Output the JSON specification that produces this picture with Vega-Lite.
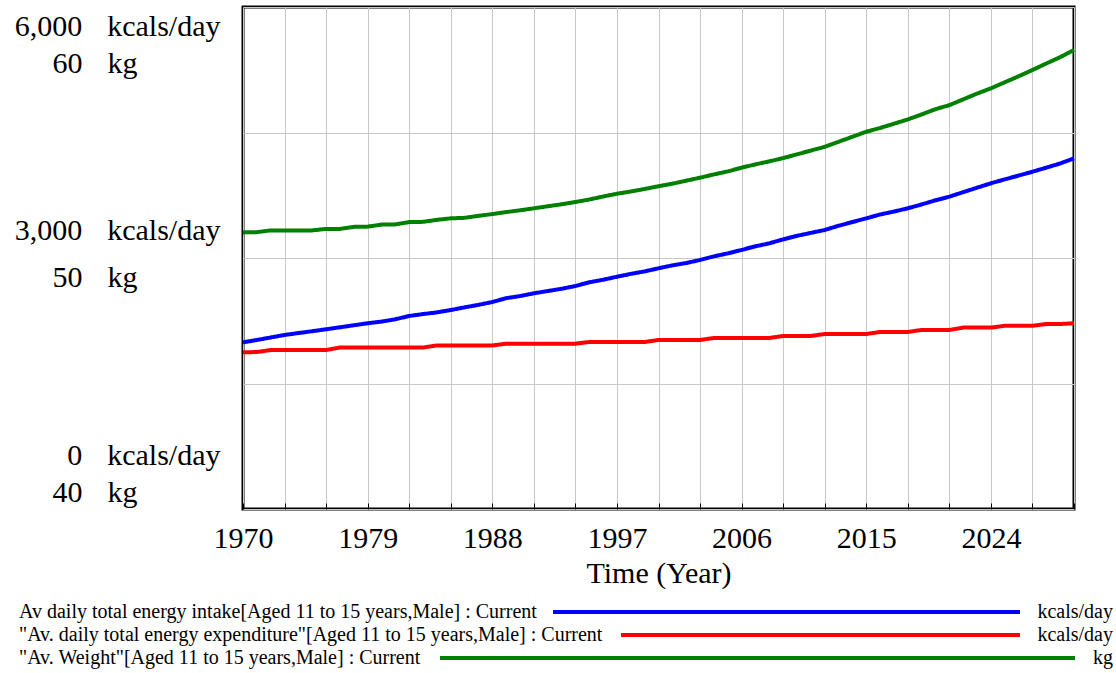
{
  "$schema": "https://vega.github.io/schema/vega-lite/v6.json",
  "autosize": {"type": "none"},
  "padding": {"left": 243, "top": 7, "right": 42, "bottom": 164},
  "width": 831,
  "height": 502,
  "config": {
    "font": "Liberation Serif",
    "view": {"stroke": "#000", "strokeWidth": 3},
    "axis": {"labelColor": "#000", "labelFont": "Liberation Serif", "titleFont": "Liberation Serif", "titleColor": "#000"},
    "legend": {"labelFont": "Liberation Serif", "labelColor": "#000"}
  },
  "data": {"values": [
    {"year": 1970, "intake": 1992, "expenditure": 1873, "weight": 51.02},
    {"year": 1971, "intake": 2020, "expenditure": 1876, "weight": 51.03},
    {"year": 1972, "intake": 2050, "expenditure": 1900, "weight": 51.10},
    {"year": 1973, "intake": 2080, "expenditure": 1900, "weight": 51.10},
    {"year": 1974, "intake": 2103, "expenditure": 1900, "weight": 51.10},
    {"year": 1975, "intake": 2125, "expenditure": 1900, "weight": 51.10},
    {"year": 1976, "intake": 2148, "expenditure": 1900, "weight": 51.16},
    {"year": 1977, "intake": 2172, "expenditure": 1930, "weight": 51.16},
    {"year": 1978, "intake": 2196, "expenditure": 1930, "weight": 51.24},
    {"year": 1979, "intake": 2220, "expenditure": 1930, "weight": 51.25},
    {"year": 1980, "intake": 2240, "expenditure": 1930, "weight": 51.33},
    {"year": 1981, "intake": 2268, "expenditure": 1930, "weight": 51.34},
    {"year": 1982, "intake": 2307, "expenditure": 1930, "weight": 51.43},
    {"year": 1983, "intake": 2330, "expenditure": 1930, "weight": 51.44},
    {"year": 1984, "intake": 2350, "expenditure": 1955, "weight": 51.52},
    {"year": 1985, "intake": 2378, "expenditure": 1955, "weight": 51.58},
    {"year": 1986, "intake": 2410, "expenditure": 1955, "weight": 51.60},
    {"year": 1987, "intake": 2440, "expenditure": 1955, "weight": 51.68},
    {"year": 1988, "intake": 2474, "expenditure": 1955, "weight": 51.75},
    {"year": 1989, "intake": 2520, "expenditure": 1976, "weight": 51.83},
    {"year": 1990, "intake": 2545, "expenditure": 1976, "weight": 51.90},
    {"year": 1991, "intake": 2578, "expenditure": 1976, "weight": 51.98},
    {"year": 1992, "intake": 2605, "expenditure": 1976, "weight": 52.06},
    {"year": 1993, "intake": 2632, "expenditure": 1976, "weight": 52.14},
    {"year": 1994, "intake": 2665, "expenditure": 1976, "weight": 52.23},
    {"year": 1995, "intake": 2710, "expenditure": 1996, "weight": 52.33},
    {"year": 1996, "intake": 2740, "expenditure": 1996, "weight": 52.45},
    {"year": 1997, "intake": 2776, "expenditure": 1996, "weight": 52.56},
    {"year": 1998, "intake": 2810, "expenditure": 1996, "weight": 52.65},
    {"year": 1999, "intake": 2840, "expenditure": 1996, "weight": 52.75},
    {"year": 2000, "intake": 2877, "expenditure": 2020, "weight": 52.86},
    {"year": 2001, "intake": 2912, "expenditure": 2020, "weight": 52.96},
    {"year": 2002, "intake": 2940, "expenditure": 2020, "weight": 53.08},
    {"year": 2003, "intake": 2976, "expenditure": 2020, "weight": 53.20},
    {"year": 2004, "intake": 3020, "expenditure": 2044, "weight": 53.33},
    {"year": 2005, "intake": 3055, "expenditure": 2044, "weight": 53.45},
    {"year": 2006, "intake": 3096, "expenditure": 2044, "weight": 53.60},
    {"year": 2007, "intake": 3140, "expenditure": 2044, "weight": 53.73},
    {"year": 2008, "intake": 3175, "expenditure": 2044, "weight": 53.85},
    {"year": 2009, "intake": 3223, "expenditure": 2068, "weight": 53.98},
    {"year": 2010, "intake": 3265, "expenditure": 2068, "weight": 54.13},
    {"year": 2011, "intake": 3300, "expenditure": 2068, "weight": 54.28},
    {"year": 2012, "intake": 3335, "expenditure": 2092, "weight": 54.43},
    {"year": 2013, "intake": 3385, "expenditure": 2092, "weight": 54.63},
    {"year": 2014, "intake": 3430, "expenditure": 2092, "weight": 54.83},
    {"year": 2015, "intake": 3474, "expenditure": 2092, "weight": 55.03},
    {"year": 2016, "intake": 3520, "expenditure": 2116, "weight": 55.18},
    {"year": 2017, "intake": 3555, "expenditure": 2116, "weight": 55.35},
    {"year": 2018, "intake": 3594, "expenditure": 2116, "weight": 55.52},
    {"year": 2019, "intake": 3640, "expenditure": 2140, "weight": 55.72},
    {"year": 2020, "intake": 3690, "expenditure": 2140, "weight": 55.93},
    {"year": 2021, "intake": 3733, "expenditure": 2140, "weight": 56.09},
    {"year": 2022, "intake": 3787, "expenditure": 2168, "weight": 56.32},
    {"year": 2023, "intake": 3840, "expenditure": 2168, "weight": 56.55},
    {"year": 2024, "intake": 3893, "expenditure": 2168, "weight": 56.76},
    {"year": 2025, "intake": 3940, "expenditure": 2190, "weight": 57.00},
    {"year": 2026, "intake": 3985, "expenditure": 2190, "weight": 57.24},
    {"year": 2027, "intake": 4031, "expenditure": 2190, "weight": 57.49},
    {"year": 2028, "intake": 4080, "expenditure": 2211, "weight": 57.75},
    {"year": 2029, "intake": 4130, "expenditure": 2211, "weight": 58.00},
    {"year": 2030, "intake": 4191, "expenditure": 2220, "weight": 58.29}
  ]},
  "encoding": {
    "x": {
      "field": "year", "type": "quantitative",
      "scale": {"domain": [1970, 2030], "nice": false, "zero": false},
      "axis": {
        "values": [1970, 1973, 1976, 1979, 1982, 1985, 1988, 1991, 1994, 1997, 2000, 2003, 2006, 2009, 2012, 2015, 2018, 2021, 2024, 2027, 2030],
        "labelExpr": "(datum.value - 1970) % 9 == 0 ? format(datum.value, 'd') : ''",
        "grid": true, "gridColor": "#c8c8c8", "gridWidth": 1,
        "domain": false,
        "ticks": true, "tickSize": -6, "tickColor": "#000", "tickWidth": 1,
        "labelFontSize": 30, "labelPadding": 20, "labelFlush": false, "labelOverlap": false,
        "title": "Time (Year)", "titleFontSize": 30, "titleFontWeight": "normal", "titlePadding": 5
      }
    }
  },
  "layer": [
    {
      "mark": {"type": "line", "strokeWidth": 4},
      "encoding": {
        "y": {
          "field": "intake", "type": "quantitative",
          "scale": {"domain": [0, 6000], "nice": false, "zero": false},
          "axis": {
            "orient": "left",
            "values": [0, 1500, 3000, 4500, 6000],
            "grid": true, "gridColor": "#c8c8c8", "gridWidth": 1,
            "domain": false, "ticks": false, "tickSize": 0,
            "labelExpr": "datum.value % 3000 == 0 ? format(datum.value, ',') + '\u00a0\u00a0\u00a0\u200akcals/day' : ''",
            "labelAlign": "right", "labelBaseline": "top", "labelLimit": 500,
            "labelPadding": 23, "labelFontSize": 30, "labelOverlap": false,
            "labelOffset": {"condition": [{"test": "datum.value == 6000", "value": 4}, {"test": "datum.value == 3000", "value": -43}], "value": -69},
            "title": null
          }
        },
        "color": {
          "datum": "Av daily total energy intake[Aged 11 to 15 years,Male] : Current",
          "scale": {
            "domain": [
              "Av daily total energy intake[Aged 11 to 15 years,Male] : Current",
              "\"Av. daily total energy expenditure\"[Aged 11 to 15 years,Male] : Current",
              "\"Av. Weight\"[Aged 11 to 15 years,Male] : Current"
            ],
            "range": ["#0000ff", "#ff0000", "#008000"]
          },
          "legend": {
            "orient": "none", "legendX": -225, "legendY": 593,
            "direction": "vertical", "title": null, "padding": 0,
            "symbolType": "stroke", "symbolSize": 400, "symbolStrokeWidth": 4,
            "symbolOffset": 397, "labelOffset": -420,
            "labelFontSize": 20, "labelLimit": 2000, "rowPadding": 1,
            "encode": {
              "symbols": {
                "update": {
                  "shape": {"signal": "datum.index == 0 ? 'M12.6,0L59.3,0' : (datum.index == 1 ? 'M19.4,0L59.3,0' : 'M1.3,0L64.8,0')"}
                }
              }
            }
          }
        },
        "strokeDash": {
          "datum": "intake",
          "scale": {"domain": ["intake", "expenditure", "weight"], "range": [[1, 0], [1, 0], [1, 0]]},
          "legend": {
            "orient": "none", "legendX": 851, "legendY": 595,
            "direction": "vertical", "title": null, "padding": 0,
            "symbolOpacity": 0, "symbolSize": 1, "symbolStrokeWidth": 0,
            "labelAlign": "right", "labelOffset": -1,
            "labelExpr": "datum.value == 'weight' ? 'kg' : 'kcals/day'",
            "labelFontSize": 20, "rowPadding": 3
          }
        }
      }
    },
    {
      "mark": {"type": "line", "strokeWidth": 4},
      "encoding": {
        "y": {
          "field": "expenditure", "type": "quantitative",
          "scale": {"domain": [0, 6000], "nice": false, "zero": false},
          "axis": null
        },
        "color": {"datum": "\"Av. daily total energy expenditure\"[Aged 11 to 15 years,Male] : Current"},
        "strokeDash": {"datum": "expenditure"}
      }
    },
    {
      "mark": {"type": "line", "strokeWidth": 4},
      "encoding": {
        "y": {
          "field": "weight", "type": "quantitative",
          "scale": {"domain": [40, 60], "nice": false, "zero": false},
          "axis": {
            "orient": "left",
            "values": [40, 50, 60],
            "grid": false, "domain": false, "ticks": false, "tickSize": 0,
            "labelExpr": "format(datum.value, 'd') + '\u00a0\u00a0\u00a0\u200akg'",
            "labelAlign": "right", "labelBaseline": "top", "labelLimit": 500,
            "labelPadding": 106, "labelFontSize": 30, "labelOverlap": false,
            "labelOffset": {"condition": [{"test": "datum.value == 60", "value": 41}, {"test": "datum.value == 50", "value": 4}], "value": -32},
            "title": null
          }
        },
        "color": {"datum": "\"Av. Weight\"[Aged 11 to 15 years,Male] : Current"},
        "strokeDash": {"datum": "weight"}
      }
    }
  ],
  "resolve": {"scale": {"y": "independent"}, "axis": {"y": "independent"}}
}
